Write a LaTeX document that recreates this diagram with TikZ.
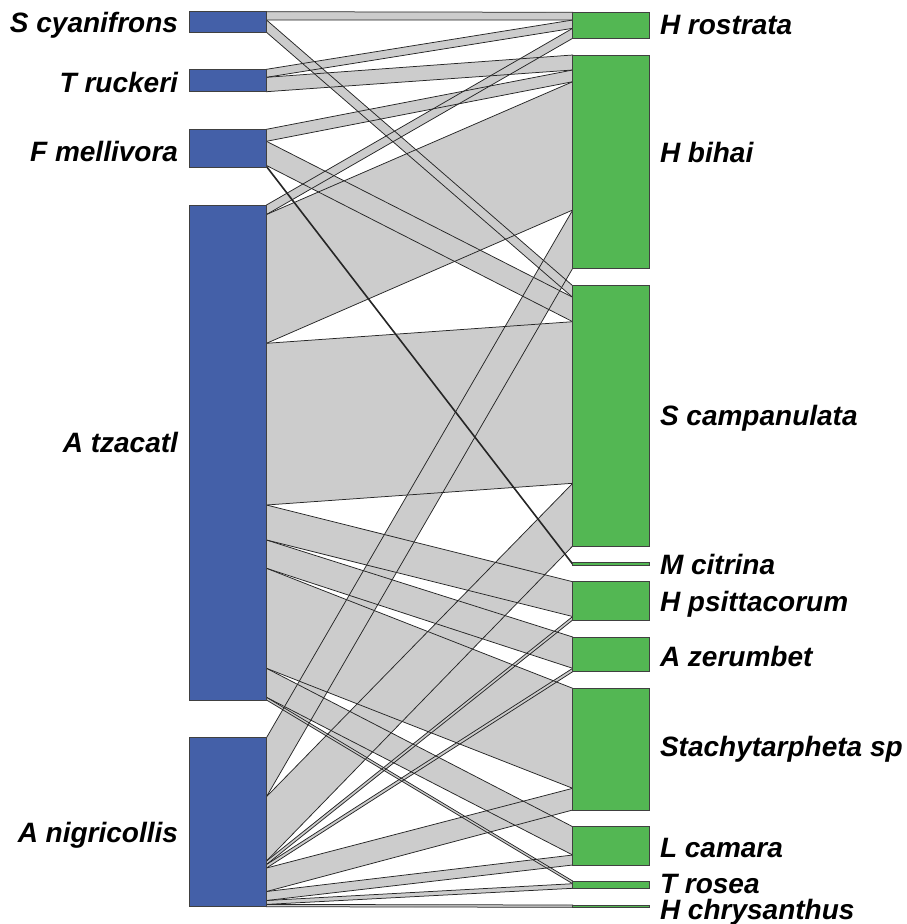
\documentclass[tikz,border=0pt]{standalone}
\usepackage{fontspec}
\setmainfont{Liberation Sans}
\definecolor{birdblue}{RGB}{68,96,168}
\definecolor{plantgreen}{RGB}{83,183,83}
\definecolor{linkgrey}{RGB}{204,204,204}
\newcommand\XL{266.5}
\newcommand\XR{572.7}
\newcommand\weblinks[1]{%
 #1{11.7}{20}{12.3}{20}%
 #1{20}{32.3}{285.7}{297.3}%
 #1{69.3}{77.3}{20}{28.3}%
 #1{77.3}{91.7}{55}{70}%
 #1{129.3}{141.3}{70}{81.7}%
 #1{141.3}{165.5}{297.3}{321.7}%
 #1{165.8}{167.2}{563.4}{564.8}%
 #1{205}{214.5}{28.3}{38.3}%
 #1{214.5}{343.3}{81.7}{210}%
 #1{343.3}{505}{321.7}{483.3}%
 #1{505}{540}{581.7}{616.5}%
 #1{540}{568.3}{637}{668.3}%
 #1{568.3}{668.3}{688.3}{788.3}%
 #1{668.3}{697.3}{826.7}{855}%
 #1{697.3}{700}{881}{883.7}%
 #1{737.7}{796.7}{210}{268.3}%
 #1{796.7}{861}{483.3}{546}%
 #1{861}{864.5}{616.5}{620}%
 #1{864.5}{868}{668.3}{671.7}%
 #1{868}{891.5}{788.3}{810}%
 #1{891.5}{900.5}{855}{865}%
 #1{900.5}{904.4}{883.7}{888.3}%
 #1{904.4}{906.7}{905}{907.3}%
}
\newcommand\filllink[4]{\fill[linkgrey] (\XL,#1) -- (\XR,#3) -- (\XR,#4) -- (\XL,#2) -- cycle;}
\newcommand\drawlink[4]{\draw[linkline] (\XL,#1) -- (\XR,#3) -- (\XR,#4) -- (\XL,#2) -- cycle;}
\tikzset{
  linkline/.style={black!85, line width=0.75pt, line join=miter},
  lbox/.style={draw=black!75, line width=0.7pt, fill=birdblue, minimum width=77pt, inner sep=0pt, outer sep=0pt},
  rbox/.style={draw=black!75, line width=0.7pt, fill=plantgreen, minimum width=76.8pt, inner sep=0pt, outer sep=0pt},
  lab/.style={font=\fontsize{28}{30}\selectfont\bfseries\itshape, inner sep=0pt, outer sep=0pt, text height=20pt, text depth=0pt},
  llab/.style={lab, anchor=base east},
  rlab/.style={lab, anchor=base west},
}
\begin{document}
\begin{tikzpicture}[x=1pt, y=-1pt]
\useasboundingbox (0,0) rectangle (906,924);
\weblinks\filllink
\weblinks\drawlink
% bird boxes
\node[lbox, minimum height=20.6pt] (scy) at (228,22) {};
\node[lbox, minimum height=22.4pt] (tru) at (228,80.5) {};
\node[lbox, minimum height=38pt] (fme) at (228,148.3) {};
\node[lbox, minimum height=495pt] (atz) at (228,452.5) {};
\node[lbox, minimum height=169pt] (ani) at (228,822.2) {};
% plant boxes
\node[rbox, minimum height=26pt] (hro) at (611.1,25.3) {};
\node[rbox, minimum height=213.3pt] (hbi) at (611.1,161.65) {};
\node[rbox, minimum height=260.3pt] (sca) at (611.1,415.85) {};
\node[rbox, minimum height=2.5pt] (mci) at (611.1,563.75) {};
\node[rbox, minimum height=38.3pt] (hps) at (611.1,600.85) {};
\node[rbox, minimum height=34.7pt] (aze) at (611.1,654.35) {};
\node[rbox, minimum height=121.7pt] (sta) at (611.1,749.15) {};
\node[rbox, minimum height=38.3pt] (lca) at (611.1,845.85) {};
\node[rbox, minimum height=7.3pt] (tro) at (611.1,884.65) {};
\node[rbox, minimum height=2.3pt] (hch) at (611.1,906.15) {};
% labels
\node[llab] (lscy) at (178,32) {S cyanifrons};
\node[llab] (ltru) at (178,92) {T ruckeri};
\node[llab] (lfme) at (178,161) {F mellivora};
\node[llab] (latz) at (178,452) {A tzacatl};
\node[llab] (lani) at (178,842) {A nigricollis};
\node[rlab] (lhro) at (660,34) {H rostrata};
\node[rlab] (lhbi) at (660,162) {H bihai};
\node[rlab] (lsca) at (660,425) {S campanulata};
\node[rlab] (lmci) at (660,574) {M citrina};
\node[rlab] (lhps) at (660,611) {H psittacorum};
\node[rlab] (laze) at (660,666) {A zerumbet};
\node[rlab] (lsta) at (660,756.7) {Stachytarpheta sp};
\node[rlab] (llca) at (660,857) {L camara};
\node[rlab] (ltro) at (660,893.3) {T rosea};
\node[rlab] (lhch) at (660,919) {H chrysanthus};
\end{tikzpicture}
\end{document}
